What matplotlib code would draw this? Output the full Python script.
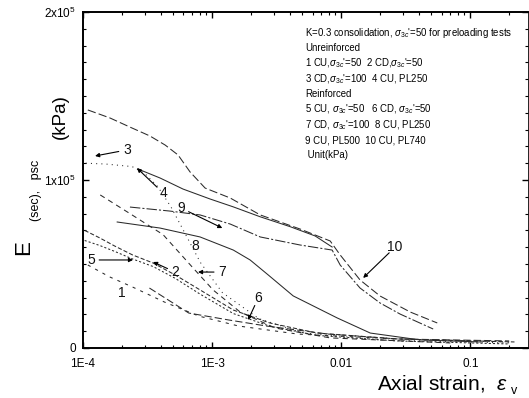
import matplotlib
matplotlib.use("Agg")
import matplotlib.pyplot as plt
import numpy as np

plt.rcParams['font.family'] = ['Liberation Sans', 'DejaVu Sans']
plt.rcParams['mathtext.fontset'] = 'custom'
plt.rcParams['mathtext.rm'] = 'Liberation Sans'
plt.rcParams['mathtext.it'] = 'Liberation Sans:italic'
plt.rcParams['mathtext.sf'] = 'Liberation Sans'

# ---- data (axial strain, secant modulus kPa) ----
c10_x = [1.09e-4, 1.62e-4, 2.31e-4, 3.30e-4, 4.33e-4, 5.45e-4, 6.75e-4, 8.83e-4, 1.38e-3, 2.36e-3, 4.81e-3, 8.22e-3, 9.82e-3, 1.40e-2, 2.00e-2, 3.43e-2, 5.55e-2]
c10_y = [141700, 136900, 131500, 126200, 120800, 114900, 104800, 95200, 89300, 79200, 70800, 63700, 55400, 40500, 30950, 21400, 14900]

c4_x = [2.67e-4, 3.95e-4, 5.96e-4, 9.64e-4, 1.46e-3, 2.36e-3, 4.03e-3, 6.28e-3, 8.51e-3]
c4_y = [106500, 101200, 94600, 88700, 84000, 78100, 72200, 66700, 60100]

c9_x = [2.31e-4, 4.72e-4, 8.07e-4, 1.38e-3, 2.36e-3, 4.81e-3, 8.51e-3, 9.82e-3, 1.40e-2, 2.00e-2, 2.86e-2, 5.16e-2]
c9_y = [83900, 81500, 79200, 73800, 66100, 61300, 58300, 49400, 35700, 26800, 20200, 11300]

c8_x = [1.84e-4, 3.95e-4, 8.07e-4, 1.46e-3, 1.97e-3, 2.72e-3, 4.25e-3, 9.31e-3, 1.68e-2, 4.09e-2, 0.120]
c8_y = [75000, 71400, 66100, 58300, 52400, 43500, 31000, 17900, 8900, 4800, 3600]

c7_x = [1.36e-4, 2.31e-4, 4.17e-4, 7.13e-4, 1.02e-3, 1.65e-3, 3.08e-3, 8.22e-3, 7.0e-2]
c7_y = [91100, 80000, 67500, 47600, 34500, 21400, 11900, 6000, 3000]

c3_x = [1.05e-4, 1.5e-4, 2.4e-4, 3.0e-4, 3.8e-4, 4.8e-4, 6.0e-4, 8.1e-4, 1.2e-3, 2.3e-3, 5.0e-3, 2.0e-2, 0.2]
c3_y = [110000, 109500, 108000, 104000, 96000, 84000, 70000, 51000, 33000, 17500, 9000, 4800, 3000]

c2_x = [1.03e-4, 1.35e-4, 1.76e-4, 2.42e-4, 3.49e-4, 5.17e-4, 8.1e-4, 1.46e-3, 2.8e-3, 6.5e-3, 2.7e-2, 0.22]
c2_y = [70000, 65500, 60700, 55400, 50600, 43500, 34500, 22600, 14900, 8900, 5400, 3600]

c5_x = [1.03e-4, 1.35e-4, 1.76e-4, 2.42e-4, 3.49e-4, 5.17e-4, 8.1e-4, 1.46e-3, 2.8e-3, 6.5e-3, 2.7e-2, 0.2]
c5_y = [64000, 61000, 57500, 53000, 48500, 41500, 32000, 20500, 13000, 7500, 4200, 2400]

c1_x = [1.09e-4, 1.61e-4, 2.42e-4, 4.26e-4, 7.9e-4, 1.6e-3, 4.6e-3, 2.7e-2, 0.2]
c1_y = [49400, 42300, 36300, 27400, 19000, 13100, 8300, 5400, 3600]

c6_x = [3.27e-4, 6.6e-4, 1.34e-3, 2.63e-3, 7.9e-3, 2.7e-2, 0.2]
c6_y = [35700, 20800, 16700, 13100, 8300, 5400, 4200]

curves = [
    (c10_x, c10_y, (0, (8, 3))),
    (c4_x, c4_y, '-'),
    (c9_x, c9_y, (0, (10, 2, 2, 2))),
    (c8_x, c8_y, '-'),
    (c7_x, c7_y, (0, (5, 4))),
    (c3_x, c3_y, (0, (1, 4))),
    (c2_x, c2_y, (0, (4, 2))),
    (c5_x, c5_y, (0, (2, 2))),
    (c1_x, c1_y, (0, (3, 5))),
    (c6_x, c6_y, (0, (7, 3))),
]

# curve labels: text, text position, pointer target (None = no pointer)
labels = [
    ("3", (2.19e-4, 117900), (1.24e-4, 114300)),
    ("4", (4.17e-4, 92300), (2.62e-4, 107100)),
    ("9", (5.75e-4, 83300), (1.20e-3, 71400)),
    ("8", (7.38e-4, 60700), None),
    ("5", (1.15e-4, 52400), (2.44e-4, 52400)),
    ("2", (5.17e-4, 45200), (3.49e-4, 51200)),
    ("7", (1.20e-3, 45200), (7.78e-4, 45200)),
    ("1", (2.00e-4, 32700), None),
    ("6", (2.28e-3, 29800), (1.90e-3, 16700)),
    ("10", (2.62e-2, 60100), (1.48e-2, 41700)),
]

xtick_vals = [1e-4, 1e-3, 1e-2, 1e-1]
xtick_labels = ["1E-4", "1E-3", "0.01", "0.1"]
ytick_vals = [0, 1e5, 2e5]
ytick_labels = ["0", r"1x10$^5$", r"2x10$^5$"]

info_lines = [
    r"K=0.3 consolidation, $\sigma_{3c}$'=50 for preloading tests",
    "Unreinforced",
    r"1 CU,$\sigma_{3c}$'=50  2 CD,$\sigma_{3c}$'=50",
    r"3 CD,$\sigma_{3c}$'=100  4 CU, PL250",
    "Reinforced",
    r"5 CU, $\sigma_{3c}$'=50   6 CD, $\sigma_{3c}$'=50",
    r"7 CD, $\sigma_{3c}$'=100  8 CU, PL250",
    "9 CU, PL500  10 CU, PL740",
    " Unit(kPa)",
]

W, H = 529, 398
fig = plt.figure(figsize=(W / 100, H / 100), dpi=100)
ax = fig.add_axes([83 / W, 1 - 348 / H, (528 - 83) / W, (348 - 12) / H])
ax.set_xscale('log')
ax.set_xlim(1e-4, 0.28)
ax.set_ylim(0, 2e5)

for xs, ys, ls in curves:
    ax.plot(xs, ys, color='#2a2a2a', lw=0.75, linestyle=ls)

for txt, tpos, target in labels:
    ax.text(tpos[0], tpos[1], txt, fontsize=10,
            ha='center', va='center', color='#111111')
    if target is not None:
        ax.annotate("", xy=target, xytext=tpos,
                    arrowprops=dict(arrowstyle='-|>', color='black', lw=0.8,
                                    shrinkA=6, shrinkB=0, mutation_scale=6))

ax.set_xticks(xtick_vals)
ax.set_xticklabels(xtick_labels, fontsize=8.5)
ax.set_yticks(ytick_vals)
ax.set_yticklabels(ytick_labels, fontsize=8.5)
ax.yaxis.set_minor_locator(matplotlib.ticker.MultipleLocator(1e4))
ax.xaxis.set_minor_locator(matplotlib.ticker.LogLocator(base=10, subs=np.arange(2, 10)))
ax.xaxis.set_minor_formatter(matplotlib.ticker.NullFormatter())
ax.tick_params(which='both', direction='in', top=True, right=True)
ax.tick_params(which='major', length=4, width=1)
ax.tick_params(axis='x', which='major', pad=7)
ax.tick_params(axis='y', which='major', pad=5)
ax.tick_params(which='minor', length=2.5, width=0.8)
for s in ['left', 'bottom', 'top']:
    ax.spines[s].set_linewidth(1.4)
ax.spines['right'].set_linewidth(0.6)

for i, line in enumerate(info_lines):
    ax.text((305 - 83) / (528 - 83), 1 - (33 + 15.3 * i - 12) / 336, line,
            transform=ax.transAxes, fontsize=6.9, ha='left', va='center')

# axis titles
fig.text(377 / W, 1 - 383 / H, r"Axial strain,  $\varepsilon$", fontsize=15,
         ha='left', va='center')
fig.text(511 / W, 1 - 391 / H, "v", fontsize=9, ha='left', va='center')
fig.text(24 / W, 1 - 248 / H, "E", fontsize=16, rotation=90, ha='center', va='center')
fig.text(36 / W, 1 - 190 / H, "(sec),   psc", fontsize=9, rotation=90,
         ha='center', va='center')
fig.text(60 / W, 1 - 117 / H, "(kPa)", fontsize=13.5, rotation=90,
         ha='center', va='center')

fig.savefig("out.png", dpi=100)
